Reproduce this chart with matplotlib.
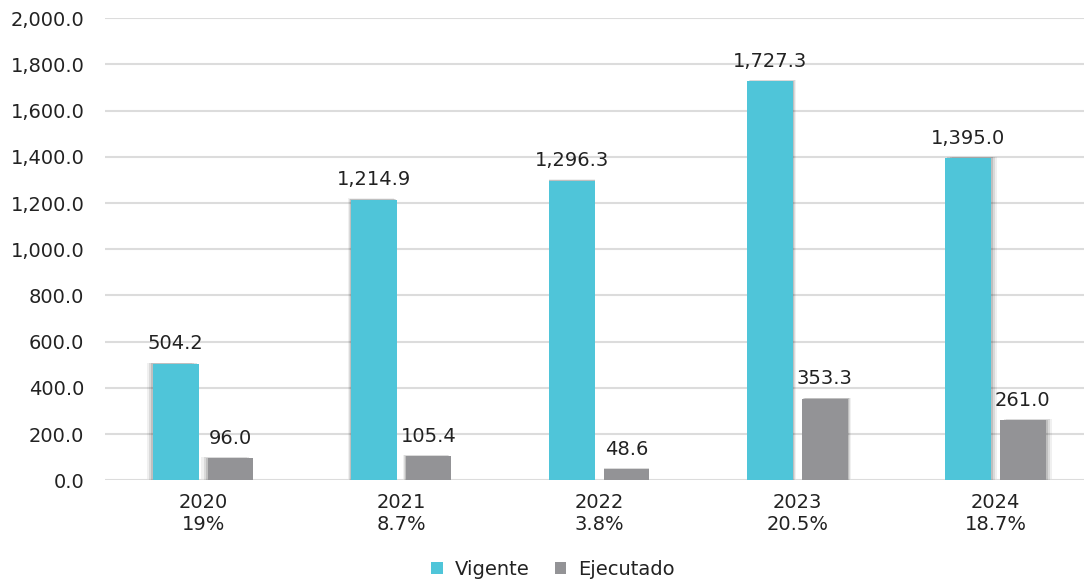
import matplotlib
matplotlib.use('Agg')
import matplotlib.pyplot as plt
import matplotlib.patheffects as pe
from matplotlib.patches import Patch
import numpy as np

# Data
years = ['2020', '2021', '2022', '2023', '2024']
pct = ['19%', '8.7%', '3.8%', '20.5%', '18.7%']
vigente = [504.2, 1214.9, 1296.3, 1727.3, 1395.0]
ejecutado = [96.0, 105.4, 48.6, 353.3, 261.0]

cyan = '#4fc5d9'
grey = '#939396'
text_col = '#222222'

plt.rcParams['font.family'] = ['DejaVu Sans']
plt.rcParams['font.size'] = 14

fig = plt.figure(figsize=(10.84, 5.81), dpi=100)
ax = fig.add_axes([0.097, 0.173, 0.903, 0.796])

x = np.arange(len(years))
w = 0.23
off = 0.138


def shadow(i):
    # soft shadow that leans away from the middle of the chart
    dx = (i - 2) * 1.5
    effects = []
    for k, a in [(3.0, 0.06), (2.0, 0.09), (1.0, 0.12)]:
        effects.append(pe.SimplePatchShadow(offset=(dx * k / 2, 0.6 * k / 2),
                                            shadow_rgbFace='black', alpha=a))
    effects.append(pe.Normal())
    return effects


bars_v = ax.bar(x - off, vigente, w, color=cyan, zorder=3)
bars_e = ax.bar(x + off, ejecutado, w, color=grey, zorder=3)
for i, (bv, be) in enumerate(zip(bars_v, bars_e)):
    bv.set_path_effects(shadow(i))
    be.set_path_effects(shadow(i))

for i in range(len(years)):
    ax.text(x[i] - off, vigente[i] + 45, f'{vigente[i]:,.1f}', ha='center',
            va='bottom', color=text_col, zorder=4)
    ax.text(x[i] + off, ejecutado[i] + 45, f'{ejecutado[i]:,.1f}', ha='center',
            va='bottom', color=text_col, zorder=4)

ax.set_xlim(-0.495, 4.447)
ax.set_ylim(0, 2000)
ax.set_yticks(np.arange(0, 2001, 200))
ax.set_yticklabels([f'{v:,.1f}' for v in np.arange(0, 2001, 200)], color=text_col)
ax.set_xticks(x)
ax.set_xticklabels([f'{y}\n{p}' for y, p in zip(years, pct)], color=text_col,
                   linespacing=1.2)
ax.tick_params(axis='both', length=0)
ax.tick_params(axis='y', pad=15)
ax.tick_params(axis='x', pad=9)

ax.grid(axis='y', color='#dcdcdc', linewidth=1.5, zorder=0)
ax.set_axisbelow(True)
for s in ax.spines.values():
    s.set_visible(False)

handles = [Patch(facecolor=cyan, label='Vigente'),
           Patch(facecolor=grey, label='Ejecutado')]
fig.legend(handles=handles, loc='center', bbox_to_anchor=(0.51, 0.02),
           ncol=2, frameon=False, handlelength=0.6, handleheight=0.6,
           handletextpad=0.6, columnspacing=1.3, labelcolor=text_col)

fig.savefig('out.png', dpi=100)
